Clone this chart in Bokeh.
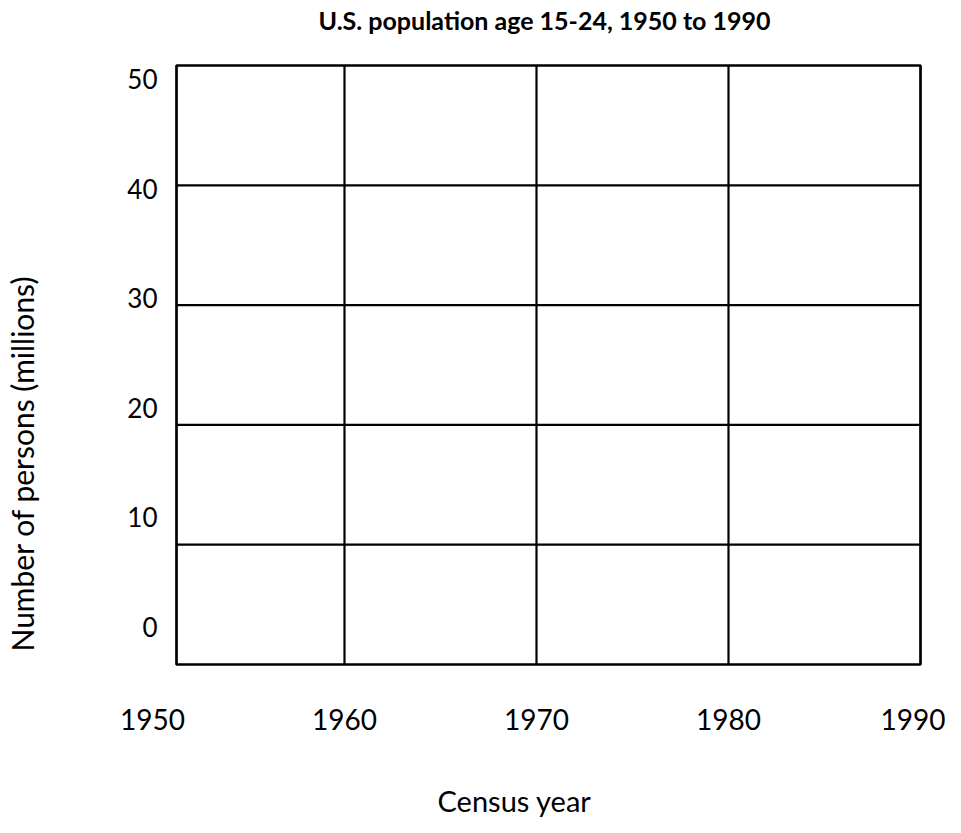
from bokeh.plotting import figure
from bokeh.models import Range1d, LinearAxis, FixedTicker, Title
from bokeh.embed import file_html
from bokeh.resources import INLINE

# ---- data / text ----
title_text = "U.S. population age 15-24, 1950 to 1990"
x_title = "Census year"
y_title = "Number of persons (millions)"
census_years = [1950, 1960, 1970, 1980, 1990]          # x tick labels
persons_ticks = [0, 10, 20, 30, 40, 50]                 # y tick labels (millions)
grid_cols = [1951.25, 1960, 1970, 1980, 1990]           # vertical rules of the blank grid
grid_rows = [0, 1, 2, 3, 4, 5]                          # horizontal rules (grid cells)

FONT = "Lato"
PX_PER_YEAR = 19.2
PX_PER_MILLION = 10.95
CELL_PX = 119.8
FRAME_LEFT, FRAME_TOP, FRAME_BOTTOM, ZERO_Y = 152, 62, 667, 626   # pixel anchors

p = figure(width=945, height=817, output_backend="svg", toolbar_location=None, title=None,
           x_range=Range1d(1950, 1950 + 774 / PX_PER_YEAR),
           y_range=Range1d((ZERO_Y - FRAME_BOTTOM) / PX_PER_MILLION,
                           (ZERO_Y - FRAME_TOP) / PX_PER_MILLION),
           min_border_left=FRAME_LEFT, min_border_right=19, min_border_top=FRAME_TOP,
           min_border_bottom=817 - FRAME_BOTTOM, x_axis_location=None, y_axis_location=None)
p.extra_y_ranges = {"grid": Range1d(-3 / CELL_PX, 5 + 3 / CELL_PX)}
p.outline_line_color = None
p.background_fill_color = "white"
p.border_fill_color = "white"
p.grid.grid_line_color = None

# blank grid
inner_cols = grid_cols[1:-1]
p.segment(x0=inner_cols, x1=inner_cols, y0=[grid_rows[0]] * len(inner_cols),
          y1=[grid_rows[-1]] * len(inner_cols), line_color="black", line_width=2.2,
          y_range_name="grid")
inner_rows = grid_rows[1:-1]
p.segment(x0=[grid_cols[0]] * len(inner_rows), x1=[grid_cols[-1]] * len(inner_rows),
          y0=inner_rows, y1=inner_rows, line_color="black", line_width=2.2,
          y_range_name="grid")
p.quad(left=grid_cols[0], right=grid_cols[-1], bottom=grid_rows[0], top=grid_rows[-1],
       fill_color=None, line_color="black", line_width=2.7, y_range_name="grid")

# axes (labels only)
xaxis = LinearAxis(ticker=FixedTicker(ticks=census_years))
yaxis = LinearAxis(ticker=FixedTicker(ticks=persons_ticks))
for ax in (xaxis, yaxis):
    ax.axis_line_color = None
    ax.major_tick_line_color = None
    ax.minor_tick_line_color = None
    ax.major_tick_in = 0
    ax.major_tick_out = 0
    ax.major_label_text_font = FONT
    ax.major_label_text_color = "black"
xaxis.major_label_text_font_size = "28px"
yaxis.major_label_text_font_size = "26px"
xaxis.major_label_standoff = 41
yaxis.major_label_standoff = -5
p.add_layout(xaxis, "below")
p.add_layout(yaxis, "left")


def spacer(px):
    """An empty title used only as a gap between side panels."""
    return Title(text=" ", text_font_size="1px", standoff=px)


# main title
p.add_layout(spacer(23), "above")
p.add_layout(Title(text=title_text, align="left", offset=166, vertical_align="top",
                   standoff=0, text_font=FONT, text_font_size="25px",
                   text_font_style="bold", text_color="black"), "above")

# y-axis title
p.add_layout(spacer(80), "left")
p.add_layout(Title(text=y_title, align="left", offset=16, vertical_align="top", standoff=0,
                   text_font=FONT, text_font_size="30px", text_font_style="normal",
                   text_color="black"), "left")

# x-axis title
p.add_layout(spacer(45), "below")
p.add_layout(Title(text=x_title, align="left", offset=285, vertical_align="bottom",
                   standoff=0, text_font=FONT, text_font_size="29px",
                   text_font_style="normal", text_color="black"), "below")

open("out.html", "w").write(file_html(p, INLINE))
